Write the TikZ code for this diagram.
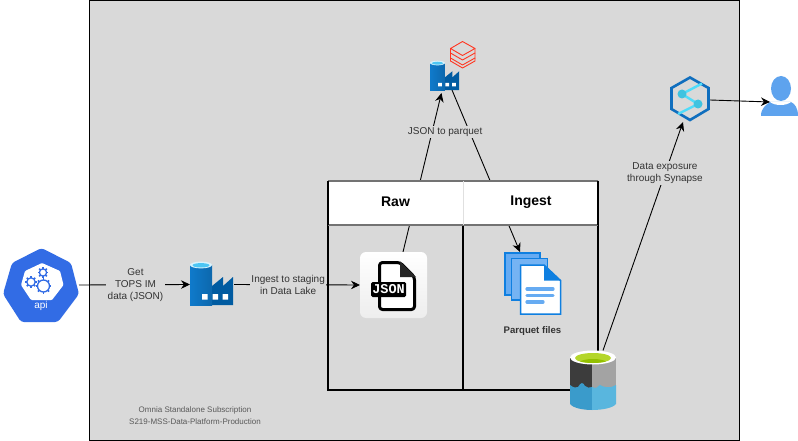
\documentclass[tikz,border=0pt]{standalone}
\usepackage{fontspec}
\setmainfont{Liberation Sans}
\newfontfamily\jsonfont{Liberation Mono}
\usetikzlibrary{arrows.meta}
\definecolor{panel}{HTML}{D9D9D9}
\definecolor{apiblue}{HTML}{326CE5}
\definecolor{adfdark}{HTML}{005BA1}
\definecolor{adflight}{HTML}{0F7ACB}
\definecolor{pageblue}{HTML}{0F7FE0}
\definecolor{pagelight}{HTML}{66ABF2}
\definecolor{userblue}{HTML}{5EA3EE}
\definecolor{synblue}{HTML}{0F6EBE}
\definecolor{syncyan}{HTML}{4FDCFA}
\definecolor{synball}{HTML}{3FC3E0}
\definecolor{brickred}{HTML}{FF3621}
\definecolor{labelgray}{HTML}{333333}
\definecolor{lakedark}{HTML}{3C3C3C}
\definecolor{lakegray}{HTML}{A3A3A3}
\definecolor{lakewatera}{HTML}{3A9BCB}
\definecolor{lakewaterb}{HTML}{59B6DE}
\definecolor{lakegreen}{HTML}{B4D62A}
\definecolor{lakegreenb}{HTML}{93C000}
\tikzset{
  x=1pt,y=-1pt,
  iconbox/.style={inner sep=0pt,outer sep=0pt,minimum width=#1},
  flow/.style={draw=black,line width=.9pt},
  flowtip/.style={flow,-{Stealth[length=9pt,width=8.5pt]}},
  edgelabel/.style={fill=panel,inner sep=1.5pt,align=center,text=labelgray,font=\fontsize{10}{12}\selectfont},
  headtext/.style={font=\fontsize{14}{16}\selectfont\bfseries,text=black},
  pics/adf/.style={code={
    \fill[adfdark] (22,24) -- (33,15) -- (33,24) -- (43,15) -- (43,43) -- (22,43) -- cycle;
    \fill[left color=adflight,right color=adflight!85!black] (0,3) rectangle (22,43);
    \fill[white!85!cyan] (11,3) ellipse[x radius=11,y radius=3.4];
    \fill[cyan!70!white] (11,3.3) ellipse[x radius=8.5,y radius=2.2];
    \fill[white] (12,32) rectangle +(5.5,5.5) (22.5,32) rectangle +(5.5,5.5) (32.5,32) rectangle +(5.5,5.5);
  }},
  pics/gear/.style={code={
    \draw[apiblue,line width=1.3pt,fill=white] (0,0) circle[radius=#1];
    \foreach \a in {0,45,...,315}
      \draw[apiblue,line width=1.6pt] (\a:#1) -- (\a:#1+1.8);
  }}
}
\begin{document}
\begin{tikzpicture}
\useasboundingbox (0,0) rectangle (798,441);
\fill[white] (0,0) rectangle (798,441);
\draw[black,fill=panel,line width=.9pt] (89,0) rectangle (739,440);

% icon anchors
\node[iconbox=76pt,minimum height=74pt] (api) at (41,285) {};
\node[iconbox=44pt,minimum height=43pt] (adfa) at (212,284.5) {};
\node[iconbox=30pt,minimum height=32pt] (adfb) at (445,77) {};
\node[iconbox=67pt,minimum height=66pt] (jsonfile) at (393.5,285) {};
\node[iconbox=57pt,minimum height=62pt] (parquet) at (532.5,283) {};
\node[iconbox=46pt,minimum height=59pt] (lake) at (593,380.5) {};
\node[iconbox=40pt,minimum height=46pt] (synapse) at (690,99) {};
\node[iconbox=37pt,minimum height=42pt] (user) at (779.5,96) {};

% User icon (the arrow tip lies over it)
\fill[userblue] (761,116) .. controls (761,108) and (766,105) .. (770,102) -- (791,102) .. controls (795,104) and (798,108) .. (798,116) -- cycle;
\fill[white] (770,102) .. controls (775,106) and (786,106) .. (791,102) -- cycle;
\fill[userblue] (781,88.5) ellipse[x radius=10,y radius=12.5];

% table body
\draw[black,line width=1.3pt] (463,225) -- (463,390);
\draw[black,line width=1.2pt] (328,225) -- (328,390) -- (598,390) -- (598,225);

% connectors
\draw[flowtip] ([xshift=7pt,yshift=3pt]adfb.south) -- ([xshift=-12.5pt]parquet.north);
\draw[flowtip] ([xshift=9.5pt]jsonfile.north) -- node[edgelabel,pos=.755,xshift=13pt] {JSON to parquet} ([xshift=-3.5pt]adfb.south);
\draw[flowtip] (api.east) -- node[edgelabel,pos=.5,xshift=1pt] {Get\\TOPS IM\\data (JSON)} (adfa.west);
\draw[flowtip] (adfa.east) -- node[edgelabel,pos=.43] {Ingest to staging\\in Data Lake} (jsonfile.west);
\draw[flowtip] ([xshift=10pt,yshift=30pt]lake.center) -- node[edgelabel,pos=.775] {Data exposure\\through Synapse} ([xshift=-7pt]synapse.south);
\draw[flowtip] ([yshift=-1pt]synapse.east) -- ([xshift=9pt,yshift=-6pt]user.west);

% table header
\fill[white] (328,181) rectangle (598,225);
\draw[black!55,line width=1.4pt] (328,181) -- (598,181) (328,225) -- (598,225);
\draw[black!12,line width=.6pt] (463,181) -- (463,225);
\draw[black,line width=1.2pt] (328,180.5) -- (328,225) (598,180.5) -- (598,225);
\node[headtext] (rawhead) at (395.5,202) {Raw};
\node[headtext] (ingesthead) at (531,202) {Ingest};

% API icon
\fill[apiblue,rounded corners=3pt] (41.5,248) -- (71,263) -- (79,294) -- (58,322) -- (21,322) -- (3,294) -- (12,263) -- cycle;
\fill[white,rounded corners=1pt] (42,263) -- (60,271) -- (63.5,285) -- (52,300) -- (31,300) -- (21,285) -- (25,271) -- cycle;
\pic at (31,282) {gear=4.2};
\pic at (43,272.5) {gear=3.6};
\pic at (43.5,286) {gear=6};
\node[text=white,font=\fontsize{10}{11}\selectfont] (apitext) at (41,305.5) {api};

% ADF icons
\pic at (190,262) {adf};
\pic[scale=.68] at (430,61) {adf};

% Databricks
\begin{scope}[brickred,line width=.9pt,line join=round]
\draw (462.5,41.5) -- (475,48.5) -- (462.5,55.5) -- (450.5,48.5) -- cycle;
\draw (450.5,48.5) -- (450.5,53) -- (462.5,60) -- (475,53) -- (475,48.5);
\draw (450.5,53) -- (450.5,58) -- (462.5,65) -- (475,58) -- (475,53);
\draw (450.5,58) -- (450.5,61) -- (462.5,68) -- (475,61) -- (475,58);
\end{scope}

% JSON file icon
\shade[top color=white,bottom color=black!7,rounded corners=6pt] (360,252) rectangle (427,318);
\draw[black,line width=3pt,fill=white,rounded corners=3pt,line join=round] (379.5,262.5) -- (400,262.5) -- (414.5,277) -- (414.5,309.5) -- (379.5,309.5) -- cycle;
\fill[black!85] (400,261.5) -- (416,277) -- (400,277) -- cycle;
\fill[black,rounded corners=1.5pt] (371,282) rectangle (406,297);
\node[text=white,font=\jsonfont\fontsize{13.5}{14}\selectfont\bfseries,inner sep=0pt] (jsonword) at (388.5,289.5) {JSON};

% Parquet files icon
\draw[pageblue,fill=pagelight,line width=1.5pt] (505,253) rectangle (540,295);
\draw[pageblue,fill=pagelight!90!white,line width=1.5pt] (511.5,258.5) rectangle (547.5,300);
\draw[pageblue,fill=white,line width=1.5pt,line join=miter] (520.5,265) -- (544,265) -- (560.5,280.5) -- (560.5,314) -- (520.5,314) -- cycle;
\fill[pageblue] (544,265) -- (560.5,280.5) -- (544,280.5) -- cycle;
\draw[pagelight,line width=3.2pt,line cap=round] (527,289) -- (553,289) (527,295.5) -- (553,295.5) (527,302) -- (543,302);
\node[font=\fontsize{9.6}{11}\selectfont\bfseries,text=labelgray] (parquetlabel) at (532.5,331.5) {Parquet files};

% Data lake icon
\fill[lakedark] (570,357) rectangle (592,392);
\fill[lakegray] (592,357) rectangle (616,392);
\fill[lakewatera] (570,385) .. controls (574,388) and (576,388) .. (578,387) .. controls (581,382) and (583,382) .. (585,386) .. controls (587,388) and (590,388) .. (592,387) -- (592,410) .. controls (583,410) and (573,408) .. (570,404) -- cycle;
\fill[lakewaterb] (592,387) .. controls (596,389) and (598,387) .. (600,385) .. controls (603,387) and (610,389) .. (616,385) -- (616,404) .. controls (613,408) and (602,410) .. (592,410) -- cycle;
\fill[white] (593,357.5) ellipse[x radius=23,y radius=7];
\fill[lakegreen] (593,358) ellipse[x radius=18,y radius=5];
\begin{scope}
\clip (593,358) ellipse[x radius=18,y radius=5];
\fill[lakegreenb] (593,363) ellipse[x radius=14,y radius=4];
\end{scope}

% Synapse icon
\draw[synblue,line width=2.6pt,line join=miter] (690,77.5) -- (708.5,88) -- (708.5,109) -- (690,120) -- (671.5,109) -- (671.5,88) -- cycle;
\draw[syncyan,line width=2.4pt] (702,83.5) -- (682,94) -- (698,104) -- (678,114);
\fill[synball] (682,94) circle[radius=4.5];
\fill[synball] (698,104) circle[radius=4.5];

% footer
\node[align=center,text=black!65,font=\fontsize{8}{12}\selectfont] (subscription) at (195,416) {Omnia Standalone Subscription\\S219-MSS-Data-Platform-Production};
\end{tikzpicture}
\end{document}
